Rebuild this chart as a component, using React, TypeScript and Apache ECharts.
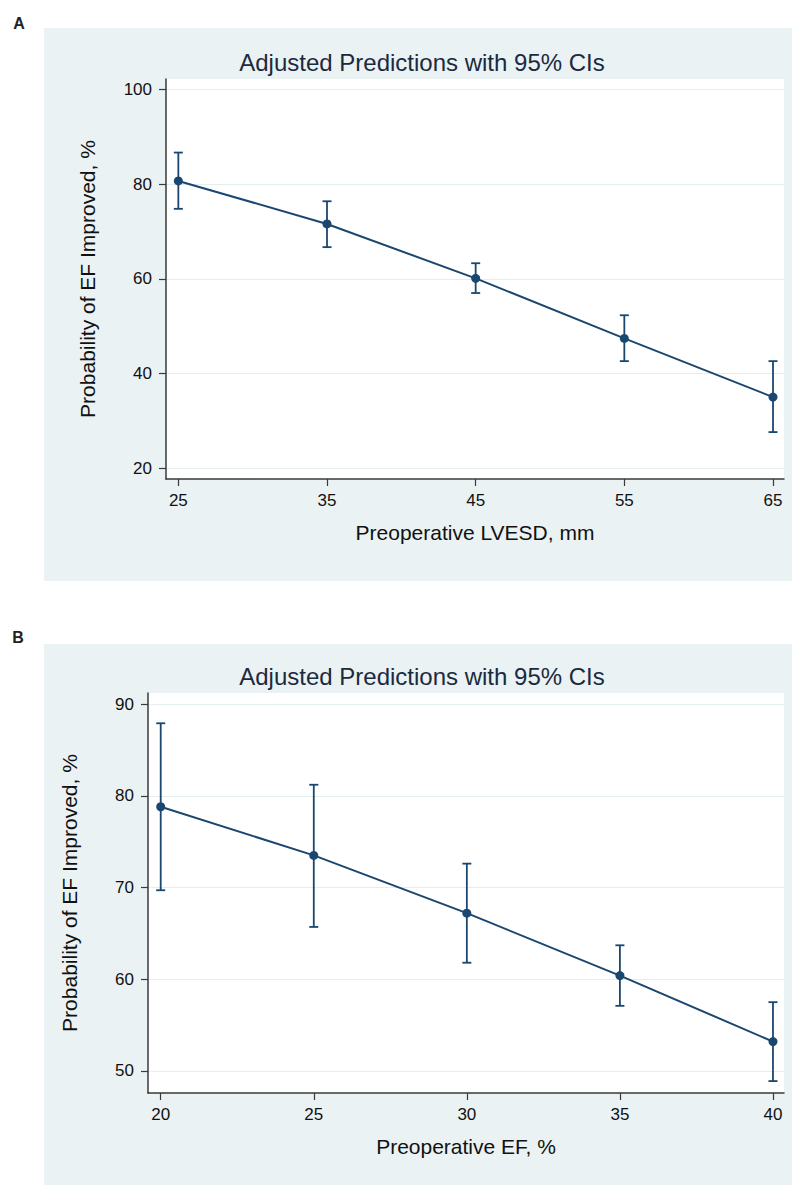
import React, { useEffect, useRef } from "react";
import * as echarts from "echarts";

// Panel A: Preoperative LVESD, mm
const lvesdValues = [25, 35, 45, 55, 65];
const lvesdPred = [80.7, 71.6, 60.1, 47.4, 35.0];
const lvesdLow = [74.8, 66.7, 57.0, 42.6, 27.6];
const lvesdHigh = [86.7, 76.4, 63.3, 52.3, 42.6];
const lvesdYTicks = [20, 40, 60, 80, 100];

// Panel B: Preoperative EF, %
const efValues = [20, 25, 30, 35, 40];
const efPred = [78.8, 73.5, 67.2, 60.4, 53.2];
const efLow = [69.7, 65.7, 61.8, 57.1, 48.9];
const efHigh = [87.9, 81.2, 72.6, 63.7, 57.5];
const efYTicks = [50, 60, 70, 80, 90];

const chartTitle = "Adjusted Predictions with 95% CIs";
const yTitle = "Probability of EF Improved, %";
const xTitleA = "Preoperative LVESD, mm";
const xTitleB = "Preoperative EF, %";

const NAVY = "#1a476f";
const BG = "#eaf2f3";
const GRIDLINE = "#e4eef0";
const AXIS = "#3a3a3a";
const TEXT = "#111111";
const TITLE = "#1c2a40";
const FONT = "'Liberation Sans', Arial, sans-serif";

const errorBarRender = (params: any, api: any) => {
  const x = api.value(0);
  const lo = api.value(1);
  const hi = api.value(2);
  const pLo = api.coord([x, lo]);
  const pHi = api.coord([x, hi]);
  const half = 4.5;
  const style = { stroke: NAVY, lineWidth: 1.8, fill: null };
  return {
    type: "group",
    children: [
      { type: "line", shape: { x1: pLo[0], y1: pLo[1], x2: pHi[0], y2: pHi[1] }, style },
      { type: "line", shape: { x1: pLo[0] - half, y1: pLo[1], x2: pLo[0] + half, y2: pLo[1] }, style },
      { type: "line", shape: { x1: pHi[0] - half, y1: pHi[1], x2: pHi[0] + half, y2: pHi[1] }, style },
    ],
  };
};

function makeX(idx: number, min: number, max: number, ticks: number[], name: string) {
  return {
    type: "value",
    gridIndex: idx,
    min,
    max,
    name,
    nameLocation: "middle",
    nameGap: 43,
    nameTextStyle: { fontSize: 21, color: TEXT, fontFamily: FONT },
    axisLine: { show: true, onZero: false, lineStyle: { color: AXIS, width: 1.5 } },
    axisTick: { show: true, length: 7, customValues: ticks, lineStyle: { color: AXIS, width: 1.2 } },
    axisLabel: { customValues: ticks, fontSize: 17, color: TEXT, margin: 13, fontFamily: FONT },
    splitLine: { show: false },
  };
}

function makeY(idx: number, min: number, max: number, ticks: number[], name: string) {
  return {
    type: "value",
    gridIndex: idx,
    min,
    max,
    name,
    nameLocation: "middle",
    nameGap: 68,
    nameTextStyle: { fontSize: 21, color: TEXT, fontFamily: FONT },
    axisLine: { show: true, onZero: false, lineStyle: { color: AXIS, width: 1.5 } },
    axisTick: { show: true, length: 7, customValues: ticks, lineStyle: { color: AXIS, width: 1.2 } },
    axisLabel: { customValues: ticks, fontSize: 17, color: TEXT, margin: 14, fontFamily: FONT },
    splitLine: { show: true, lineStyle: { color: GRIDLINE, width: 1.2 } },
  };
}

export default function App() {
  const ref = useRef<HTMLDivElement>(null);
  useEffect(() => {
    document.body.style.margin = "0";
    if (!ref.current) return;
    const chart = echarts.init(ref.current, null, { renderer: "svg" });
    const option: any = {
      animation: false,
      backgroundColor: "#ffffff",
      graphic: [
        { type: "rect", z: -100, shape: { x: 44, y: 28, width: 748, height: 553 }, style: { fill: BG } },
        { type: "rect", z: -100, shape: { x: 44, y: 644, width: 748, height: 541 }, style: { fill: BG } },
        {
          type: "text", x: 19, y: 23,
          style: { text: "A", fontSize: 16, fontWeight: "bold", fill: "#222", fontFamily: FONT, align: "center", verticalAlign: "middle" },
        },
        {
          type: "text", x: 18, y: 637,
          style: { text: "B", fontSize: 16, fontWeight: "bold", fill: "#222", fontFamily: FONT, align: "center", verticalAlign: "middle" },
        },
        {
          type: "text", x: 422, y: 62,
          style: { text: chartTitle, fontSize: 24, fill: TITLE, fontFamily: FONT, align: "center", verticalAlign: "middle" },
        },
        {
          type: "text", x: 422, y: 676,
          style: { text: chartTitle, fontSize: 24, fill: TITLE, fontFamily: FONT, align: "center", verticalAlign: "middle" },
        },
      ],
      grid: [
        { left: 166, top: 79, width: 618, height: 400, show: true, backgroundColor: "#ffffff", borderWidth: 0 },
        { left: 148, top: 693, width: 636, height: 400, show: true, backgroundColor: "#ffffff", borderWidth: 0 },
      ],
      xAxis: [
        makeX(0, 24.17, 65.74, lvesdValues, xTitleA),
        makeX(1, 19.585, 40.36, efValues, xTitleB),
      ],
      yAxis: [
        makeY(0, 17.68, 102.25, lvesdYTicks, yTitle),
        makeY(1, 47.6, 91.2, efYTicks, yTitle),
      ],
      series: [
        {
          type: "custom",
          xAxisIndex: 0,
          yAxisIndex: 0,
          renderItem: errorBarRender,
          encode: { x: 0, y: [1, 2] },
          data: lvesdValues.map((v, i) => [v, lvesdLow[i], lvesdHigh[i]]),
          z: 2,
        },
        {
          type: "line",
          xAxisIndex: 0,
          yAxisIndex: 0,
          data: lvesdValues.map((v, i) => [v, lvesdPred[i]]),
          symbol: "circle",
          symbolSize: 9,
          showSymbol: true,
          lineStyle: { color: NAVY, width: 2 },
          itemStyle: { color: NAVY },
          z: 3,
        },
        {
          type: "custom",
          xAxisIndex: 1,
          yAxisIndex: 1,
          renderItem: errorBarRender,
          encode: { x: 0, y: [1, 2] },
          data: efValues.map((v, i) => [v, efLow[i], efHigh[i]]),
          z: 2,
        },
        {
          type: "line",
          xAxisIndex: 1,
          yAxisIndex: 1,
          data: efValues.map((v, i) => [v, efPred[i]]),
          symbol: "circle",
          symbolSize: 9,
          showSymbol: true,
          lineStyle: { color: NAVY, width: 2 },
          itemStyle: { color: NAVY },
          z: 3,
        },
      ],
    };
    chart.setOption(option);
    return () => chart.dispose();
  }, []);
  return <div ref={ref} style={{ width: 792, height: 1185 }} />;
}
